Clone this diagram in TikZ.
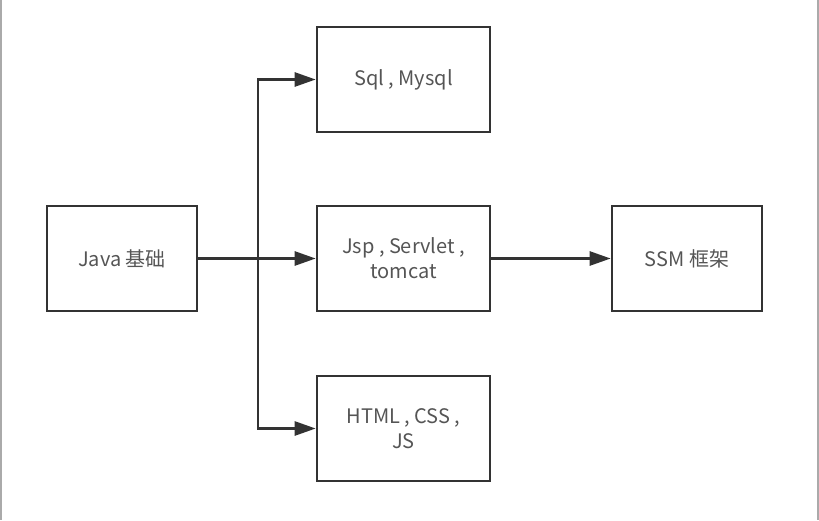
\documentclass[tikz,border=0pt]{standalone}
\usepackage{fontspec}
\setmainfont{Noto Sans CJK SC}
\usetikzlibrary{arrows.meta,positioning}
\definecolor{edge}{HTML}{333333}
\definecolor{label}{HTML}{555555}
\definecolor{frame}{HTML}{AAAAAA}
\tikzset{
  stage/.style={draw=edge, line width=2.6pt, minimum width=150pt, minimum height=105pt,
    align=center, text=label, font=\fontsize{20pt}{25pt}\selectfont, inner sep=0pt},
  wide/.style={stage, minimum width=173pt},
  link/.style={draw=edge, line width=2.6pt, -{Triangle[length=21pt,width=14pt]}}
}
\begin{document}
\begin{tikzpicture}[x=1pt,y=-1pt]

%definitions

\def\W{819} % picture width
\def\H{520} % picture height
\def\fork{258} % x of the branch line
\def\mid{258.5} % y of the middle row

\useasboundingbox (0,0) rectangle (\W,\H);

% screen frame
\draw[frame, line width=1.5pt] (1,0) -- (1,\H);
\draw[frame, line width=1.5pt] (\W-1,0) -- (\W-1,\H);

%boxes

\node[stage] (java) at (122,\mid) {Java 基础};
\node[wide] (sql) at (403.5,79.5) {Sql , Mysql};
\node[wide] (jsp) at (403.5,\mid) {Jsp , Servlet ,\\tomcat};
\node[wide] (html) at (403.5,428.5) {HTML , CSS ,\\JS};
\node[stage] (ssm) at (687,\mid) {SSM 框架};

%arrows

\coordinate (branch) at (\fork,\mid);
\draw[draw=edge, line width=2.6pt] (java.east) -- (branch); % trunk
\foreach \t in {sql,jsp,html} \draw[link] (branch) |- (\t.west); % branches
\draw[link] (jsp.east) -- (ssm.west); % to framework

\end{tikzpicture}
\end{document}
